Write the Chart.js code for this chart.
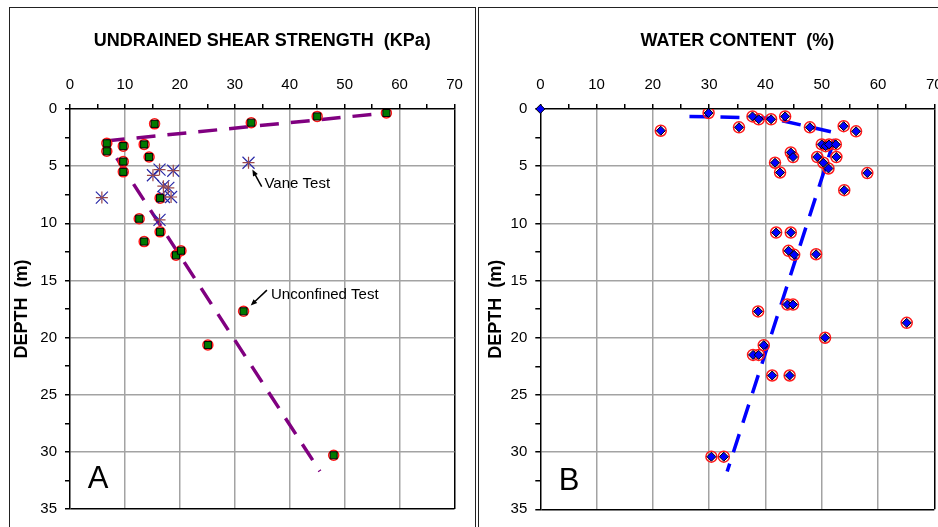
<!DOCTYPE html>
<html>
<head>
<meta charset="utf-8">
<title>Undrained shear strength and water content vs depth</title>
<script src="https://cdn.jsdelivr.net/npm/chart.js@4.4.1/dist/chart.umd.min.js"></script>
<style>
  html, body { margin: 0; padding: 0; background: #fff; overflow: hidden; }
  body { width: 938px; height: 527px; position: relative; }
  .frame { position: absolute; border: 1.5px solid #222; box-sizing: border-box; }
  #frameA { left: 9px; top: 7px; width: 467px; height: 540px; }
  #frameB { left: 478px; top: 7px; width: 480px; height: 540px; }
  canvas { position: absolute; top: 0; }
  #chartA { left: 0; }
  #chartB { left: 478px; }
</style>
</head>
<body>
<div class="frame" id="frameA"></div>
<div class="frame" id="frameB"></div>
<canvas id="chartA" width="478" height="527"></canvas>
<canvas id="chartB" width="490" height="527"></canvas>
<script>
// Panel A: undrained shear strength (kPa) against depth (m)
const unconfinedSu = [15.4, 33.0, 45.0, 57.6, 6.7, 6.7, 9.7, 13.5, 14.4, 9.7, 9.7, 16.4, 12.6, 16.4, 13.5, 19.3, 20.2, 25.1, 31.6, 48.0];
const unconfinedDepth = [1.3, 1.2, 0.65, 0.35, 3.0, 3.7, 3.25, 3.1, 4.2, 4.6, 5.5, 7.8, 9.6, 10.75, 11.6, 12.8, 12.4, 20.65, 17.7, 30.3];
const vaneSu = [5.8, 16.3, 15.1, 18.8, 17.0, 17.9, 17.1, 18.4, 16.3, 32.5];
const vaneDepth = [7.75, 5.3, 5.8, 5.4, 6.75, 6.9, 7.7, 7.7, 9.7, 4.7];
const crustTrendSu = [6.5, 57.6];
const crustTrendDepth = [2.8, 0.35];
const clayTrendSu = [8.5, 45.5];
const clayTrendDepth = [4.3, 31.7];

// Panel B: water content (%) against depth (m)
const originW = [0];
const originDepth = [0];
const waterContent = [29.9, 21.4, 35.3, 37.7, 38.8, 41.0, 43.5, 47.9, 53.9, 56.1,
  50.0, 50.7, 51.3, 52.5, 44.5, 44.9, 49.2, 52.6, 50.3, 51.2,
  41.7, 42.6, 58.1, 54.0, 41.9, 44.5, 44.1, 45.1, 49.0, 43.9,
  44.9, 38.7, 65.1, 50.6, 39.7, 37.8, 38.8, 41.2, 44.3, 30.4, 32.6];
const waterDepth = [0.35, 1.9, 1.6, 0.65, 0.9, 0.9, 0.65, 1.6, 1.5, 1.95,
  3.1, 3.25, 3.1, 3.1, 3.8, 4.2, 4.2, 4.2, 4.7, 5.2,
  4.7, 5.55, 5.6, 7.1, 10.8, 10.8, 12.4, 12.75, 12.7, 17.1,
  17.1, 17.7, 18.7, 20.0, 20.65, 21.5, 21.5, 23.3, 23.3, 30.4, 30.4];
const waterTrendW = [26.5, 41, 52.6, 33.2];
const waterTrendDepth = [0.65, 0.8, 2.1, 31.7];

// Axis ticks
const xMax = 70, xLabelStep = 10, xMinorStep = 5;
const depthMax = 35, depthLabelStep = 5, depthMinorStep = 2.5;

Chart.defaults.font.family = "'Liberation Sans', Arial, sans-serif";
Chart.defaults.color = '#000';

function xy(xs, ys) {
  return xs.map((v, i) => ({ x: v, y: ys[i] }));
}

// only major steps get a grey line, the far edge is the black frame
function gridColor(step, last) {
  return c => {
    if (!c.tick) return 'rgba(0,0,0,0)';
    const v = c.tick.value;
    if (v === last) return '#000';
    if (v === 0 || v % step !== 0) return 'rgba(0,0,0,0)';
    return '#a3a3a3';
  };
}

// arrows and text notes, given in data units
const notes = {
  id: 'notes',
  afterDatasetsDraw(chart, args, opts) {
    const { ctx, scales: { x, y } } = chart;
    ctx.save();
    ctx.fillStyle = '#000';
    ctx.strokeStyle = '#000';
    (opts.arrows || []).forEach(a => {
      const x0 = x.getPixelForValue(a.from[0]), y0 = y.getPixelForValue(a.from[1]);
      const x1 = x.getPixelForValue(a.to[0]), y1 = y.getPixelForValue(a.to[1]);
      const ang = Math.atan2(y1 - y0, x1 - x0);
      ctx.lineWidth = 1.5;
      ctx.beginPath();
      ctx.moveTo(x0, y0);
      ctx.lineTo(x1 - 4 * Math.cos(ang), y1 - 4 * Math.sin(ang));
      ctx.stroke();
      ctx.beginPath();
      ctx.moveTo(x1, y1);
      ctx.lineTo(x1 - 7 * Math.cos(ang - 0.4), y1 - 7 * Math.sin(ang - 0.4));
      ctx.lineTo(x1 - 7 * Math.cos(ang + 0.4), y1 - 7 * Math.sin(ang + 0.4));
      ctx.closePath();
      ctx.fill();
    });
    (opts.labels || []).forEach(l => {
      ctx.font = l.font;
      ctx.textAlign = l.align || 'left';
      ctx.textBaseline = 'alphabetic';
      ctx.fillText(l.text, x.getPixelForValue(l.at[0]), y.getPixelForValue(l.at[1]));
    });
    ctx.restore();
  }
};

function depthScales(title, yWidth, yTitlePad) {
  return {
    x: {
      type: 'linear', position: 'top', min: 0, max: xMax,
      afterFit: s => { s.height = 109; },
      ticks: {
        stepSize: xMinorStep, autoSkip: false, maxRotation: 0, padding: 10,
        font: { size: 15 },
        callback: v => (v % xLabelStep === 0 ? v : '')
      },
      grid: { color: gridColor(xLabelStep, xMax), lineWidth: 1.5, tickLength: 5, tickColor: '#000', tickWidth: 1.5 },
      border: { color: '#000', width: 1.5 },
      title: { display: true, text: title, font: { size: 18, weight: 'bold' }, padding: { top: 30, bottom: 0 } }
    },
    y: {
      type: 'linear', reverse: true, min: 0, max: depthMax,
      afterFit: s => { s.width = yWidth; },
      ticks: {
        stepSize: depthMinorStep, autoSkip: false, padding: 8,
        font: { size: 15 },
        callback: v => (v % depthLabelStep === 0 ? v : '')
      },
      grid: { color: gridColor(depthLabelStep, depthMax), lineWidth: 1.5, tickLength: 5, tickColor: '#000', tickWidth: 1.5 },
      border: { color: '#000', width: 1.5 },
      title: { display: true, text: 'DEPTH  (m)', font: { size: 18, weight: 'bold' }, padding: { top: yTitlePad, bottom: 0 } }
    }
  };
}

function trendLine(xs, ys, color) {
  return {
    data: xy(xs, ys), showLine: true, borderColor: color, borderWidth: 3.5,
    borderDash: [19, 12], pointRadius: 0, fill: false, order: 5, clip: false
  };
}

// Shear strength chart
new Chart(document.getElementById('chartA'), {
  type: 'scatter',
  data: {
    datasets: [
      trendLine(crustTrendSu, crustTrendDepth, '#800080'),
      trendLine(clayTrendSu, clayTrendDepth, '#800080'),
      {
        data: xy(unconfinedSu, unconfinedDepth), pointStyle: 'circle', pointRadius: 5,
        pointBackgroundColor: 'rgba(255,255,255,0)', pointBorderColor: '#ff1a1a', pointBorderWidth: 1.5, order: 3
      },
      {
        data: xy(unconfinedSu, unconfinedDepth), pointStyle: 'rect', pointRadius: 5,
        pointBackgroundColor: '#007a00', pointBorderColor: '#000', pointBorderWidth: 1, order: 1
      },
      {
        data: xy(vaneSu, vaneDepth), pointStyle: 'cross', pointRadius: 6,
        pointBorderColor: '#9a4a4a', pointBorderWidth: 1.2, order: 2
      },
      {
        data: xy(vaneSu, vaneDepth), pointStyle: 'crossRot', pointRadius: 8.5,
        pointBorderColor: '#2a2aa8', pointBorderWidth: 1.2, order: 2
      }
    ]
  },
  options: {
    responsive: false,
    animation: false,
    devicePixelRatio: 1,
    layout: { padding: { left: 0, top: 0, right: 23.5, bottom: 18 } },
    scales: depthScales('UNDRAINED SHEAR STRENGTH  (KPa)', 70, 11),
    plugins: {
      legend: { display: false },
      tooltip: { enabled: false },
      notes: {
        arrows: [
          { from: [34.9, 6.8], to: [33.2, 5.3] },
          { from: [35.85, 15.85], to: [32.9, 17.2] }
        ],
        labels: [
          { text: 'Vane Test', at: [35.4, 6.9], font: "15px 'Liberation Sans', Arial" },
          { text: 'Unconfined Test', at: [36.6, 16.6], font: "15px 'Liberation Sans', Arial" },
          { text: 'A', at: [5.1, 33.2], align: 'center', font: "31px 'Liberation Sans', Arial" }
        ]
      }
    }
  },
  plugins: [notes]
});

// Water content chart
new Chart(document.getElementById('chartB'), {
  type: 'scatter',
  data: {
    datasets: [
      trendLine(waterTrendW, waterTrendDepth, '#0000ff'),
      {
        data: xy(waterContent, waterDepth), pointStyle: 'circle', pointRadius: 5.5,
        pointBackgroundColor: 'rgba(255,255,255,0)', pointBorderColor: '#ff1a1a', pointBorderWidth: 1.5, order: 3
      },
      {
        data: xy(waterContent, waterDepth), pointStyle: 'rectRot', pointRadius: 4.5,
        pointBackgroundColor: '#0000ff', pointBorderColor: '#000', pointBorderWidth: 1, order: 1
      },
      {
        data: xy(originW, originDepth), pointStyle: 'rectRot', pointRadius: 4.5, clip: false,
        pointBackgroundColor: '#0000ff', pointBorderColor: '#000', pointBorderWidth: 1, order: 1
      }
    ]
  },
  options: {
    responsive: false,
    animation: false,
    devicePixelRatio: 1,
    layout: { padding: { left: 0, top: 0, right: 33.7, bottom: 17.7 } },
    scales: depthScales('WATER CONTENT  (%)', 62.3, 7),
    plugins: {
      legend: { display: false },
      tooltip: { enabled: false },
      notes: {
        labels: [
          { text: 'B', at: [5.1, 33.3], align: 'center', font: "31px 'Liberation Sans', Arial" }
        ]
      }
    }
  },
  plugins: [notes]
});
</script>
</body>
</html>
